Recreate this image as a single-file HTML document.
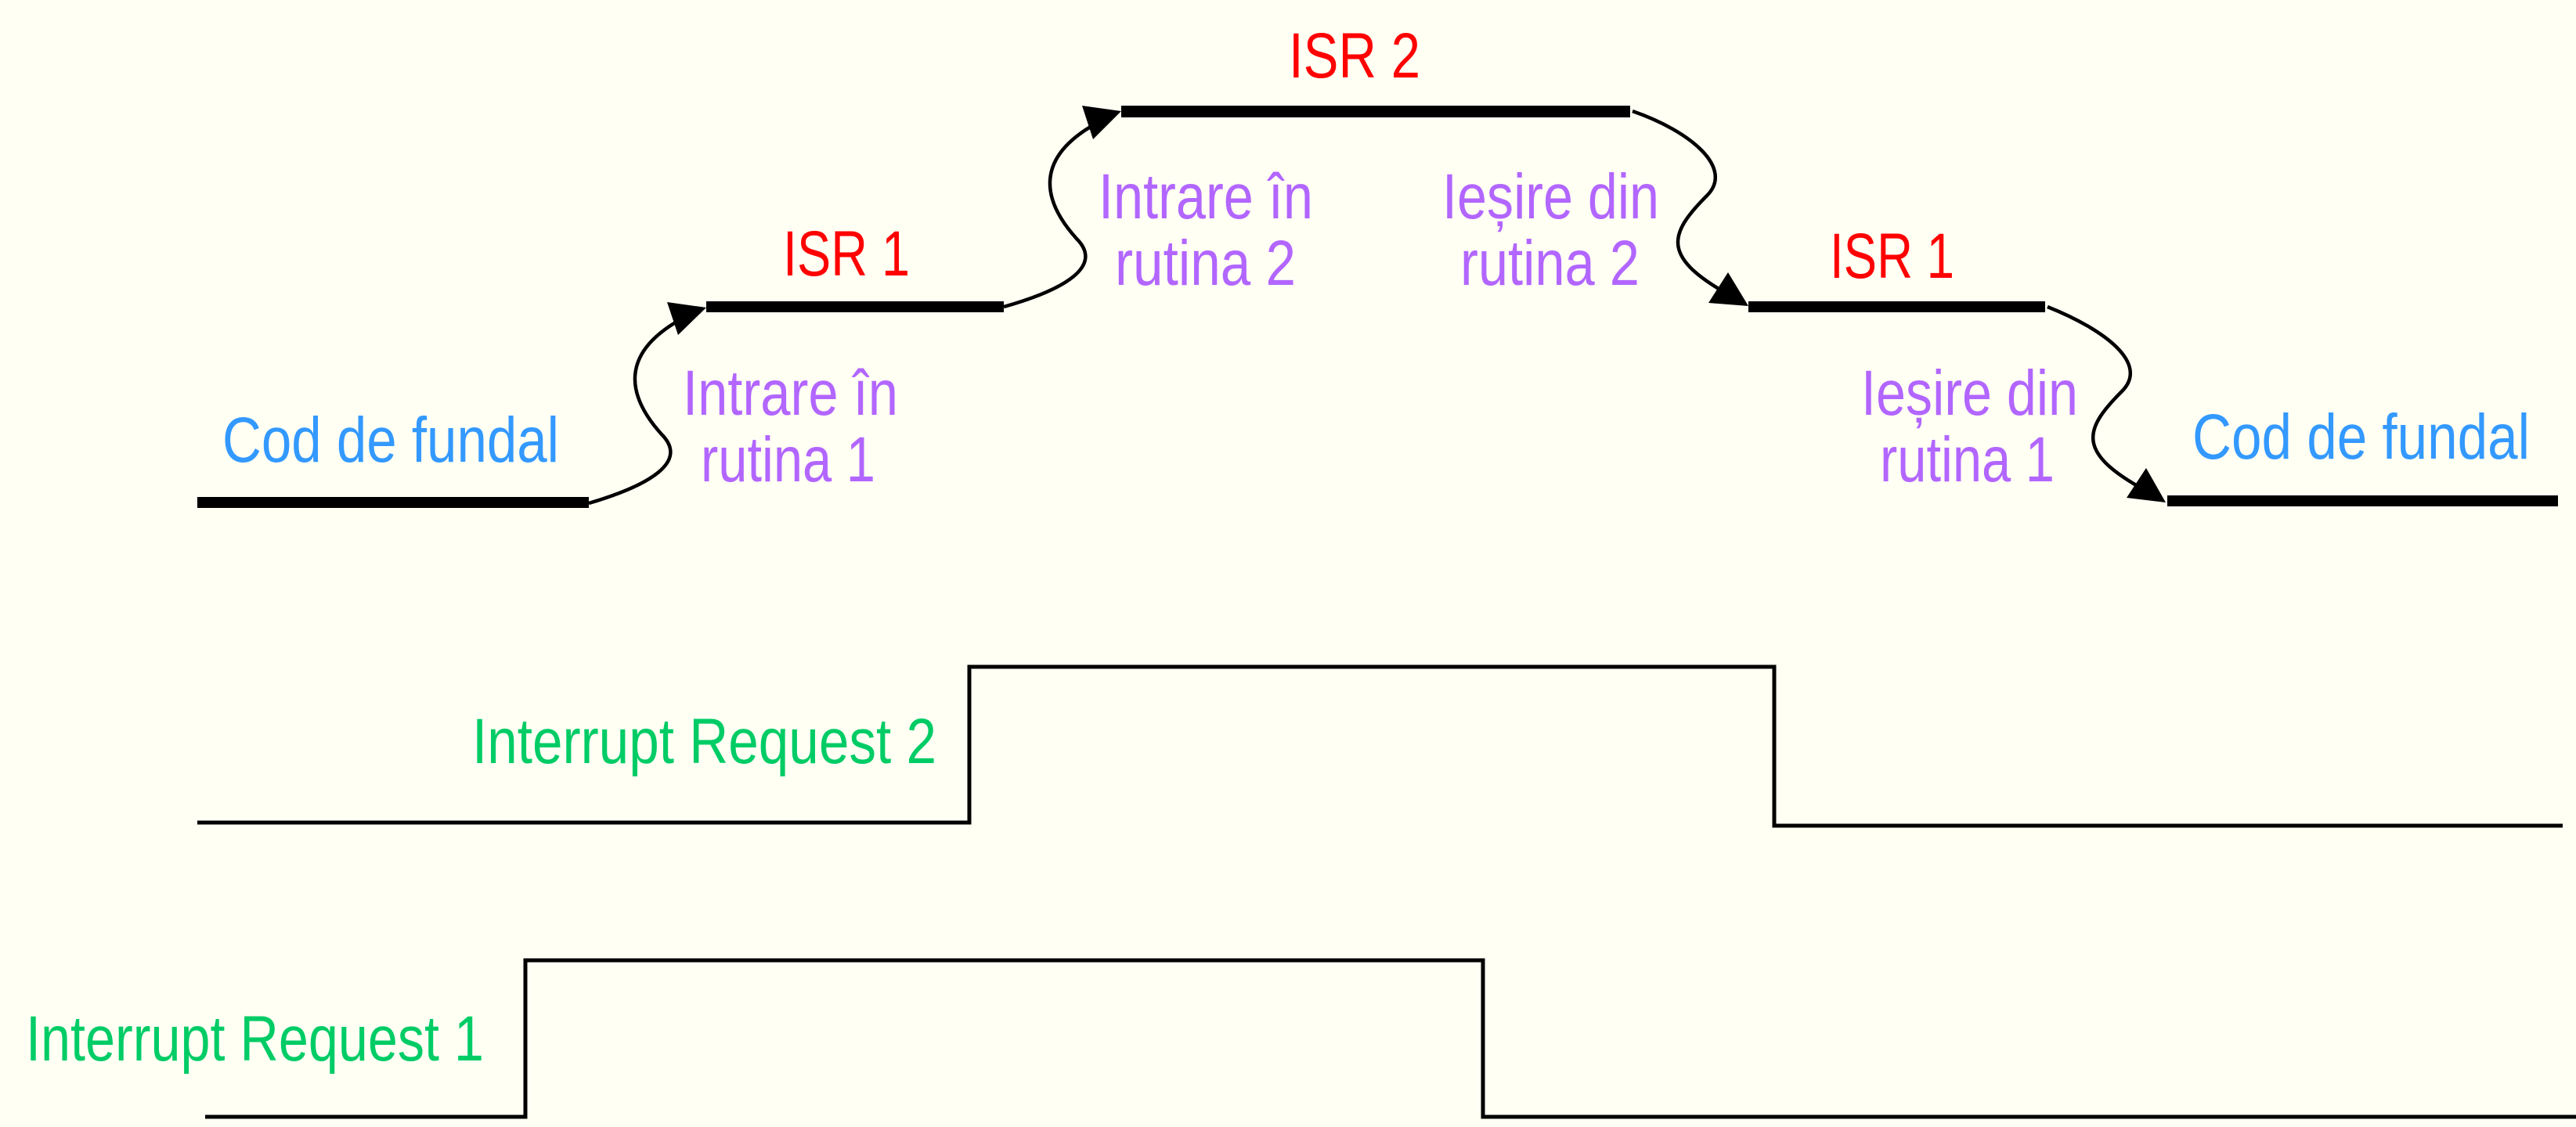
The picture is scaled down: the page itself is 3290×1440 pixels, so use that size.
<!DOCTYPE html>
<html><head><meta charset="utf-8"><style>
html,body{margin:0;padding:0;background:#fffff4;}
svg{display:block;}
text{font-family:"Liberation Sans",sans-serif;}
</style></head><body>
<svg width="3290" height="1440" viewBox="0 0 3290 1440" xmlns="http://www.w3.org/2000/svg">
<rect width="3290" height="1440" fill="#fffff4"/>
<g fill="#000">
<rect x="252" y="635" width="500" height="14"/>
<rect x="902" y="385" width="380" height="14"/>
<rect x="1432" y="135" width="650" height="15"/>
<rect x="2233" y="385" width="379" height="14"/>
<rect x="2768" y="633" width="499" height="14"/>
</g>
<g fill="none" stroke="#000" stroke-width="4.5">
<path d="M752,643 C830,620 880,590 845,555 C800,505 790,450 875,405"/>
<path d="M1282,392 C1360,370 1410,340 1375,305 C1330,255 1320,200 1405,155"/>
<path d="M2085,142 C2160,168 2215,215 2180,250 C2130,300 2120,330 2218,382"/>
<path d="M2615,392 C2690,422 2745,465 2710,500 C2660,550 2650,580 2750,632"/>
</g>
<g fill="#000">
<polygon points="902,393 852,386 866,428"/>
<polygon points="1432,142 1382,135 1396,178"/>
<polygon points="2233,391 2207,348 2182,387"/>
<polygon points="2766,642 2741,598 2716,636"/>
</g>
<g fill="none" stroke="#000" stroke-width="5">
<polyline points="252,1051 1238,1051 1238,852 2266,852 2266,1055 3273,1055"/>
<polyline points="262,1427 671,1427 671,1227 1894,1227 1894,1427 3290,1427"/>
</g>
<g font-size="82">
<text x="284" y="590" fill="#3399ff" textLength="430" lengthAdjust="spacingAndGlyphs">Cod de fundal</text>
<text x="2800" y="586" fill="#3399ff" textLength="431" lengthAdjust="spacingAndGlyphs">Cod de fundal</text>
<text x="1000" y="352" fill="#ff0000" textLength="162" lengthAdjust="spacingAndGlyphs">ISR 1</text>
<text x="1646" y="99" fill="#ff0000" textLength="168" lengthAdjust="spacingAndGlyphs">ISR 2</text>
<text x="2337" y="355" fill="#ff0000" textLength="159" lengthAdjust="spacingAndGlyphs">ISR 1</text>
<g fill="#b266ff">
<text x="872" y="530" textLength="275" lengthAdjust="spacingAndGlyphs">Intrare în</text>
<text x="895" y="615" textLength="223" lengthAdjust="spacingAndGlyphs">rutina 1</text>
<text x="1403" y="279" textLength="274" lengthAdjust="spacingAndGlyphs">Intrare în</text>
<text x="1424" y="364" textLength="231" lengthAdjust="spacingAndGlyphs">rutina 2</text>
<text x="1842" y="279" textLength="277" lengthAdjust="spacingAndGlyphs">Ieșire din</text>
<text x="1865" y="364" textLength="229" lengthAdjust="spacingAndGlyphs">rutina 2</text>
<text x="2377" y="530" textLength="277" lengthAdjust="spacingAndGlyphs">Ieșire din</text>
<text x="2401" y="615" textLength="223" lengthAdjust="spacingAndGlyphs">rutina 1</text>
</g>
<g fill="#00cc66">
<text x="603" y="975" textLength="593" lengthAdjust="spacingAndGlyphs">Interrupt Request 2</text>
<text x="33" y="1355" textLength="585" lengthAdjust="spacingAndGlyphs">Interrupt Request 1</text>
</g>
</g>
</svg>
</body></html>
